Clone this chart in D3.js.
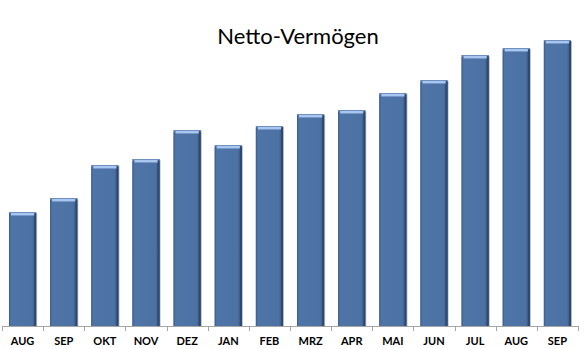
<!DOCTYPE html>
<html><head><meta charset="utf-8">
<script src="https://cdn.jsdelivr.net/npm/d3@7"></script>
<style>body{margin:0;background:#fff}svg{display:block}</style>
</head><body>
<svg id="c" width="584" height="349"></svg>
<script>
const categories = ["AUG","SEP","OKT","NOV","DEZ","JAN","FEB","MRZ","APR","MAI","JUN","JUL","AUG","SEP"];
const values = [114,128,161,167,196,181,200,212,216,233,246,271,278,286];
const title = "Netto-Vermögen";

const svg = d3.select("#c");
const x0 = 2, x1 = 578, yBase = 326, yTop = 26;
const x = d3.scaleBand().domain(d3.range(categories.length)).range([x0, x1]).paddingInner(0.34).paddingOuter(0.17);
const y = d3.scaleLinear().domain([0,300]).range([yBase, yTop]);

const defs = svg.append("defs");
const g1 = defs.append("linearGradient").attr("id","bar").attr("x1",0).attr("x2",1).attr("y1",0).attr("y2",0);
g1.append("stop").attr("offset","0%").attr("stop-color","#4a6d9f");
g1.append("stop").attr("offset","10%").attr("stop-color","#4f75a8");
g1.append("stop").attr("offset","85%").attr("stop-color","#4c71a3");
g1.append("stop").attr("offset","100%").attr("stop-color","#34507a");

const gb = svg.append("g");
values.forEach((v,i)=>{
  const bx = x(i), bw = x.bandwidth(), by = y(v), bh = yBase - by;
  gb.append("rect").attr("x",bx+1).attr("y",by+1).attr("width",bw).attr("height",bh-1).attr("fill","#b8bcc4");
  gb.append("rect").attr("x",bx).attr("y",by).attr("width",bw).attr("height",bh).attr("fill","url(#bar)");
  gb.append("rect").attr("x",bx+bw-2).attr("y",by+2).attr("width",2).attr("height",bh-2).attr("fill","#2f4870");
  gb.append("rect").attr("x",bx).attr("y",by+2).attr("width",1).attr("height",bh-2).attr("fill","#3f5f8f");
  gb.append("rect").attr("x",bx).attr("y",by).attr("width",bw).attr("height",1).attr("fill","#6e90c0");
  gb.append("rect").attr("x",bx+2).attr("y",by+1).attr("width",bw-4).attr("height",2).attr("fill","#a9c6ee");
  gb.append("rect").attr("x",bx+2).attr("y",by+3).attr("width",bw-4).attr("height",1).attr("fill","#7598c8");
});

const ax = svg.append("g").attr("transform",`translate(0,${yBase})`);
ax.append("line").attr("x1",x0).attr("x2",x1).attr("y1",0.5).attr("y2",0.5).attr("stroke","#a6a6a6");
for (let i=0;i<=categories.length;i++){
  const tx = Math.round(x0 + i*(x1-x0)/categories.length)+0.5;
  ax.append("line").attr("x1",tx).attr("x2",tx).attr("y1",0).attr("y2",5).attr("stroke","#a6a6a6");
}
categories.forEach((c,i)=>{
  ax.append("text").attr("x",x(i)+x.bandwidth()/2).attr("y",19).attr("text-anchor","middle")
    .attr("font-family","Lato, 'Open Sans', sans-serif").attr("font-weight","bold").attr("font-size",11).attr("fill","#000").text(c);
});

svg.append("text").attr("x",298).attr("y",44).attr("text-anchor","middle")
  .attr("font-family","Lato, 'Open Sans', sans-serif").attr("font-size",22).attr("fill","#000").text(title);
</script>
</body></html>
